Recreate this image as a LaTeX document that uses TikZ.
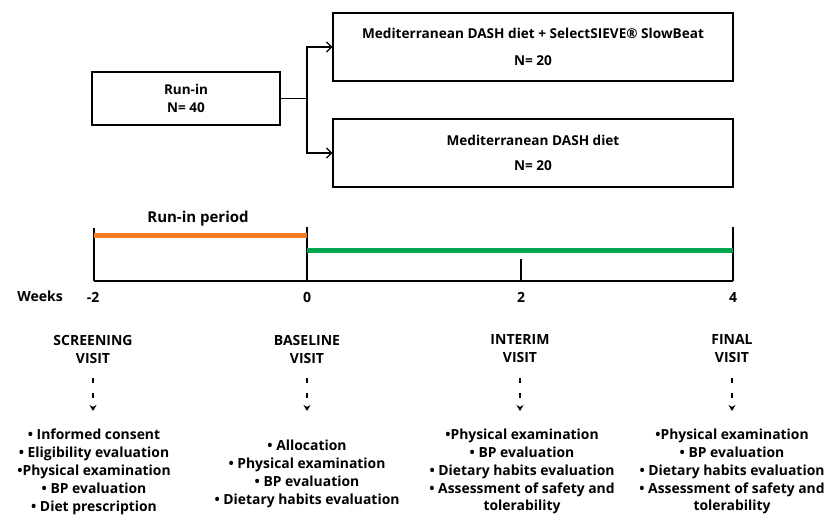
\documentclass[tikz,border=0pt]{standalone}
\usepackage{fontspec}
\setmainfont{Open Sans}
\usetikzlibrary{arrows.meta}
\definecolor{runorange}{HTML}{F47B20}
\definecolor{trtgreen}{HTML}{00A651}
\begin{document}
\begin{tikzpicture}[x=1pt,y=-1pt,
  txt/.style={font=\fontsize{14}{18}\selectfont\bfseries, inner sep=0pt, align=center},
  listtxt/.style={font=\fontsize{13.9}{17.8}\selectfont\bfseries, inner sep=0pt, align=center, anchor=north},
  boxtxt/.style={font=\fontsize{13.6}{27}\selectfont\bfseries, align=center, draw, line width=1.3pt, inner sep=0pt},
  conn/.style={line width=1.3pt, -{Straight Barb[length=5pt,width=10pt,line width=1.3pt]}},
  axis/.style={line width=1.3pt},
  dasharrow/.style={line width=1.8pt, dash pattern=on 5pt off 10pt, -{Stealth[length=6pt,width=7pt]}},
]
\useasboundingbox (0,0) rectangle (825,517);

% boxes
\node[boxtxt, minimum width=188pt, minimum height=53pt, font=\fontsize{13.5}{18}\selectfont\bfseries] (runin) at (186,98.5) {Run-in\\N= 40};
\node[boxtxt, minimum width=400pt, minimum height=68pt] (combo) at (533,47) {Mediterranean DASH diet + SelectSIEVE® SlowBeat\\N= 20};
\node[boxtxt, minimum width=400pt, minimum height=68pt, font=\fontsize{13.6}{25}\selectfont\bfseries] (diet) at (533,153) {Mediterranean DASH diet\\N= 20};

\coordinate (split) at (307,98.5);
\draw[line width=1.3pt] (runin.east) -- (split);
\draw[conn] (split) |- (combo.west);
\draw[conn] (split) |- (diet.west);

% timeline
\coordinate (tm2) at (94,281);
\coordinate (t0) at (307,281);
\coordinate (t2) at (521,281);
\coordinate (t4) at (733,281);
\coordinate (tm2top) at (94,228);
\coordinate (t0top) at (307,227);
\coordinate (t2top) at (521,259);
\coordinate (t4top) at (733,227);
\draw[axis] (tm2) -- (t4);
\draw[axis] (tm2top) -- (tm2);
\draw[axis] (t0top) -- (t0);
\draw[axis] (t2top) -- (t2);
\draw[axis] (t4top) -- (t4);
\coordinate (oa) at (94,235);
\coordinate (ob) at (307,235);
\coordinate (ga) at (307,250);
\coordinate (gb) at (733,250);
\draw[runorange, line width=5pt] (oa) -- (ob);
\draw[trtgreen, line width=5pt] (ga) -- (gb);
\node[txt, font=\fontsize{15}{18}\selectfont\bfseries] (period) at (198,219) {Run-in period};

\node[txt] (weeks) at (40,296) {Weeks};
\node[txt] (lm2) at (93,297) {-2};
\node[txt] (l0) at (307,297) {0};
\node[txt] (l2) at (521,297) {2};
\node[txt] (l4) at (733,297) {4};

% visits
\node[txt] (v1) at (93,349) {SCREENING\\VISIT};
\node[txt] (v2) at (307,349) {BASELINE\\VISIT};
\node[txt] (v3) at (520,349) {INTERIM\\VISIT};
\node[txt] (v4) at (732,349) {FINAL\\VISIT};

\foreach \n/\x in {1/93,2/307,3/520,4/732}{
  \coordinate (da\n) at (\x,378);
  \coordinate (db\n) at (\x,411);
  \draw[dasharrow] (da\n) -- (db\n);
}

% lists
\node[listtxt] (list1) at (94,429) {• Informed consent\\• Eligibility evaluation\\•Physical examination\\• BP evaluation\\• Diet prescription};
\node[listtxt] (list2) at (307,440) {• Allocation\\• Physical examination\\• BP evaluation\\• Dietary habits evaluation};
\node[listtxt] (list3) at (522,429) {•Physical examination\\• BP evaluation\\• Dietary habits evaluation\\• Assessment of safety and\\tolerability};
\node[listtxt] (list4) at (732,429) {•Physical examination\\• BP evaluation\\• Dietary habits evaluation\\• Assessment of safety and\\tolerability};
\end{tikzpicture}
\end{document}
